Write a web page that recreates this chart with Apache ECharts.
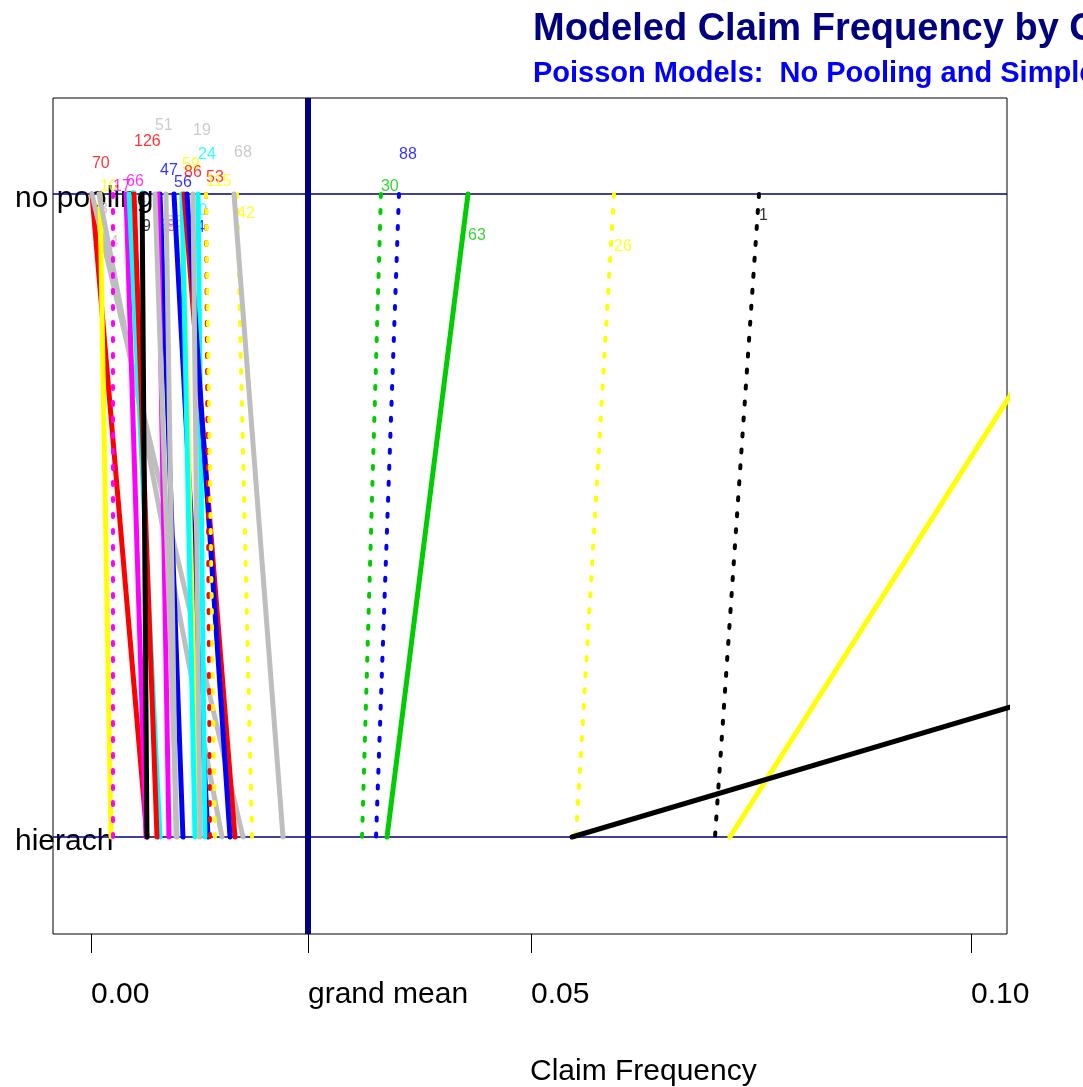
<!DOCTYPE html>
<html>
<head>
<meta charset="utf-8">
<script src="https://cdn.jsdelivr.net/npm/echarts@6/dist/echarts.min.js"></script>
<style>
  html, body { margin: 0; padding: 0; background: #ffffff; }
  #chart { width: 1083px; height: 1087px; }
</style>
</head>
<body>
<div id="chart"></div>
<script>
// Group identifiers, one per line
const groupIds = ['70', '124', '10', '3', '17', '66', '21', '126', '9', '47', '58', '51', '33', '56', '59', '110', '24', '86', '64', '19', '53', '115', '42', '68', '30', '88', '63', '26', '1', '', ''];
// Estimated claim frequency under the no-pooling model
const noPooling = [0.00011, 0.00011, 0.00102, 0.00091, 0.00250, 0.00398, 0.00432, 0.00489, 0.00580, 0.00784, 0.00761, 0.00727, 0.00852, 0.00943, 0.01034, 0.01034, 0.01216, 0.01057, 0.01091, 0.01159, 0.01307, 0.01307, 0.01659, 0.01625, 0.03295, 0.03500, 0.04284, 0.05943, 0.07591, 0.11898, 0.30102];
// Estimated claim frequency under the simple hierarchical model
const hierarchical = [0.00636, 0.01727, 0.00227, 0.01489, 0.00250, 0.00625, 0.00784, 0.00750, 0.00636, 0.01045, 0.00886, 0.00977, 0.00966, 0.01330, 0.01216, 0.01182, 0.01295, 0.01636, 0.01580, 0.01239, 0.01352, 0.01409, 0.01830, 0.02182, 0.03080, 0.03239, 0.03364, 0.05511, 0.07091, 0.07261, 0.05466];
// Line colour and line type per group
const lineColors = ['red', 'gray', 'yellow', 'gray', 'magenta', 'magenta', 'cyan', 'red', 'black', 'blue', 'magenta', 'gray', 'gray', 'blue', 'yellow', 'cyan', 'cyan', 'red', 'blue', 'gray', 'red', 'yellow', 'yellow', 'gray', 'green', 'blue', 'green', 'yellow', 'black', 'yellow', 'black'];
const lineKinds = ['solid', 'solid', 'solid', 'solid', 'dotted', 'solid', 'solid', 'solid', 'solid', 'solid', 'solid', 'solid', 'solid', 'solid', 'solid', 'solid', 'solid', 'solid', 'solid', 'solid', 'dotted', 'dotted', 'dotted', 'solid', 'dotted', 'dotted', 'solid', 'dotted', 'dotted', 'solid', 'solid'];
// Vertical placement of each group label around the no-pooling level
const labelLevel = [1.048, 0.924, 1.012, 0.975, 1.012, 1.019, 0.994, 1.081, 0.950, 1.037, 0.950, 1.107, 0.956, 1.017, 1.045, 0.974, 1.061, 1.033, 0.947, 1.098, 1.025, 1.020, 0.970, 1.064, 1.011, 1.061, 0.936, 0.918, 0.967, 1.0, 1.0];

const grandMean = 0.02466;
const xTickValues = [0, grandMean, 0.05, 0.10];
const xTickLabels = ['0.00', 'grand mean', '0.05', '0.10'];
const levelValues = [0, 1];
const levelNames = ['hierach', 'no pooling'];

const palette = {
  black: '#000000', red: '#FF0000', green: '#00CD00', blue: '#0000FF',
  cyan: '#00FFFF', magenta: '#FF00FF', yellow: '#FFFF00', gray: '#BEBEBE'
};
const NAVY = '#000080';
const FONT = 'Liberation Sans, Arial, Helvetica, sans-serif';
const X_MIN = -0.004318, X_MAX = 0.104091;
const Y_MIN = -0.15086, Y_MAX = 1.1493;

const chart = echarts.init(document.getElementById('chart'), null, { renderer: 'canvas' });

const series = [];

// Reference lines: the two model levels
series.push({
  type: 'line',
  data: [],
  silent: true,
  z: 1,
  markLine: {
    silent: true,
    symbol: 'none',
    animation: false,
    precision: 6,
    z: 1,
    label: { show: false },
    data: [
      { yAxis: 1, lineStyle: { color: NAVY, width: 1.5, type: 'solid' } },
      { yAxis: 0, lineStyle: { color: NAVY, width: 1.5, type: 'solid' } }
    ]
  }
});

// Grand mean, a full-height vertical rule
series.push({
  type: 'line',
  data: [[grandMean, Y_MIN], [grandMean, Y_MAX]],
  symbol: 'none',
  silent: true,
  animation: false,
  z: 1,
  lineStyle: { color: NAVY, width: 6, type: 'solid' }
});

// Group labels, written next to each no-pooling estimate
series.push({
  type: 'scatter',
  symbolSize: 0,
  silent: true,
  z: 1,
  clip: true,
  animation: false,
  data: groupIds.map((id, i) => ({
    value: [noPooling[i], labelLevel[i]],
    name: id,
    label: { color: palette[lineColors[i]] }
  })),
  label: {
    show: true,
    position: 'right',
    distance: 0,
    fontFamily: FONT,
    fontSize: 16,
    formatter: p => p.name
  }
});

// One line per group joining its two estimates
groupIds.forEach((id, i) => {
  const dotted = lineKinds[i] === 'dotted';
  series.push({
    type: 'line',
    name: 'group ' + id,
    data: [[noPooling[i], 1], [hierarchical[i], 0]],
    symbol: 'none',
    silent: true,
    clip: true,
    animation: false,
    z: 2,
    lineStyle: {
      color: palette[lineColors[i]],
      width: dotted ? 4 : 5,
      type: dotted ? [3, 13] : 'solid',
      cap: 'round'
    }
  });
});

chart.setOption({
  animation: false,
  backgroundColor: '#ffffff',
  title: {
    text: 'Modeled Claim Frequency by Company',
    subtext: 'Poisson Models:  No Pooling and Simple Hierarchical',
    left: 528,
    top: 6,
    itemGap: 10,
    textStyle: { fontFamily: FONT, fontSize: 38, fontWeight: 'bold', color: NAVY },
    subtextStyle: { fontFamily: FONT, fontSize: 29, fontWeight: 'bold', color: '#0000FF' }
  },
  grid: {
    left: 53, top: 98, width: 954, height: 836,
    outerBoundsMode: 'none',
    containLabel: false,
    show: true, borderColor: '#000000', borderWidth: 1, backgroundColor: 'transparent'
  },
  xAxis: {
    type: 'value',
    min: X_MIN,
    max: X_MAX,
    name: 'Claim Frequency',
    nameLocation: 'middle',
    nameGap: 138,
    nameTextStyle: { fontFamily: FONT, fontSize: 30, color: '#000000', align: 'left', verticalAlign: 'middle' },
    axisLine: { show: false, onZero: false },
    splitLine: { show: false },
    axisTick: {
      show: true, length: 19, customValues: xTickValues,
      lineStyle: { color: '#000000', width: 1 }
    },
    axisLabel: {
      show: true, customValues: xTickValues, margin: 46, align: 'left',
      fontFamily: FONT, fontSize: 30, color: '#000000',
      formatter: v => {
        const k = xTickValues.findIndex(t => Math.abs(t - v) < 1e-9);
        return k >= 0 ? xTickLabels[k] : '';
      }
    }
  },
  yAxis: {
    type: 'value',
    min: Y_MIN,
    max: Y_MAX,
    axisLine: { show: false, onZero: false },
    axisTick: { show: false },
    splitLine: { show: false },
    axisLabel: {
      show: true, customValues: levelValues, margin: 38, align: 'left',
      fontFamily: FONT, fontSize: 30, color: '#000000',
      rich: {
        lvl: { fontFamily: FONT, fontSize: 30, color: '#000000', padding: [10, 0, 0, 0] }
      },
      formatter: v => {
        const k = levelValues.findIndex(t => Math.abs(t - v) < 1e-9);
        return k >= 0 ? '{lvl|' + levelNames[k] + '}' : '';
      }
    }
  },
  series: series
});
</script>
</body>
</html>
